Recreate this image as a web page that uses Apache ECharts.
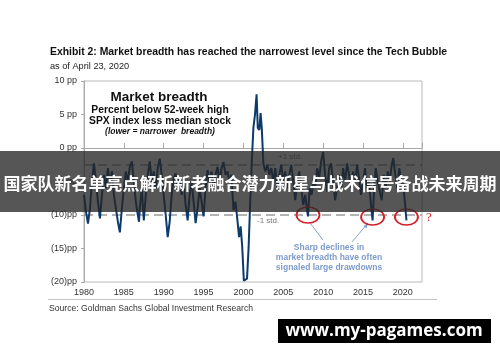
<!DOCTYPE html>
<html>
<head>
<meta charset="utf-8">
<script src="https://cdn.jsdelivr.net/npm/echarts@6/dist/echarts.min.js"></script>
<style>
html,body{margin:0;padding:0;background:#fff;}
#chart{width:500px;height:362px;}
</style>
</head>
<body>
<div id="chart"></div>
<script>
// ---- data ----
var titleText = 'Exhibit 2: Market breadth has reached the narrowest level since the Tech Bubble';
var subtitleText = 'as of April 23, 2020';
var sourceText = 'Source: Goldman Sachs Global Investment Research';
var bannerText = '国家队新名单亮点解析新老融合潜力新星与战术信号备战未来周期';
var watermarkText = 'www.my-pagames.com';
var yTicks = [-20, -15, -10, -5, 0, 5, 10];
var xTicks = [1980, 1985, 1990, 1995, 2000, 2005, 2010, 2015, 2020];
var stdLevels = { plus: -2.5, minus: -10 };
var circledDips = [[2008.1, -10], [2016.2, -10.3], [2020.45, -10.3]];
// market breadth: [year, pp]
var breadth = [
[1980.00,-7],[1980.25,-9.5],[1980.50,-11.3],[1980.75,-9],[1981.00,-5],[1981.25,-2.3],[1981.50,-5],[1981.75,-8],
[1982.00,-10.5],[1982.25,-7],[1982.50,-4],[1982.75,-6],[1983.00,-3],[1983.25,-5.5],[1983.50,-3.5],[1983.75,-7],
[1984.00,-9],[1984.25,-11],[1984.50,-12.6],[1984.75,-9],[1985.00,-6],[1985.25,-3.5],[1985.50,-5],[1985.75,-2.8],
[1986.00,-2],[1986.25,-5],[1986.50,-8],[1986.75,-10],[1986.90,-11],[1987.00,-9],[1987.25,-6],[1987.50,-10.8],
[1987.75,-7],[1988.00,-4],[1988.25,-2],[1988.50,-5],[1988.75,-3.5],[1989.00,-6],[1989.25,-3],[1989.50,-1.6],
[1989.75,-4],[1990.00,-7],[1990.25,-10],[1990.50,-13.3],[1990.75,-11],[1991.00,-7],[1991.25,-4.5],[1991.50,-3.8],
[1991.75,-6],[1992.00,-4.5],[1992.25,-7],[1992.50,-5],[1992.75,-8.5],[1993.00,-10.8],[1993.25,-7],[1993.50,-5],
[1993.75,-8],[1994.00,-11.2],[1994.25,-9],[1994.50,-6],[1994.75,-8],[1995.00,-10.2],[1995.25,-6],[1995.50,-3.3],
[1995.75,-5],[1996.00,-3.5],[1996.25,-6],[1996.50,-4],[1996.75,-2.8],[1997.00,-5],[1997.25,-3],[1997.50,-2.1],
[1997.75,-4],[1998.00,-3.5],[1998.25,-5],[1998.50,-4],[1998.75,-9.3],[1999.00,-8],[1999.25,-10.8],[1999.45,-13.3],
[1999.65,-11.7],[1999.85,-14.8],[2000.05,-19.8],[2000.25,-20],[2000.45,-19.5],[2000.65,-14.8],[2000.85,-8],[2001.05,-2],
[2001.25,3],[2001.45,5],[2001.65,8],[2001.80,3],[2002.00,2.7],[2002.15,5.2],[2002.30,3],[2002.50,-2.3],
[2002.75,-3.5],[2003.00,-2.5],[2003.25,-4],[2003.50,-3],[2003.75,-5],[2004.00,-3],[2004.25,-6],[2004.50,-4],
[2004.75,-2.5],[2005.00,-5],[2005.25,-3.5],[2005.50,-6],[2005.75,-4],[2006.00,-2.5],[2006.25,-5],[2006.50,-7.8],
[2006.75,-5],[2007.00,-3.5],[2007.25,-6],[2007.50,-8.5],[2007.75,-7],[2007.95,-9],[2008.10,-10.2],[2008.30,-6],
[2008.55,-7],[2008.80,-4.5],[2009.00,-6],[2009.25,-3],[2009.50,-4.5],[2009.75,-2],[2010.00,-0.6],[2010.25,-4],
[2010.50,-6.5],[2010.75,-3],[2011.00,-2.3],[2011.25,-5],[2011.50,-7.8],[2011.75,-6],[2012.00,-4],[2012.25,-6.5],
[2012.50,-3],[2012.75,-5],[2013.00,-2.3],[2013.25,-4],[2013.50,-6],[2013.75,-3.5],[2014.00,-5],[2014.25,-2.5],
[2014.50,-4.5],[2014.75,-7],[2015.00,-5],[2015.25,-3],[2015.50,-6],[2015.75,-5],[2016.00,-8.5],[2016.20,-10.8],
[2016.40,-6],[2016.60,-3],[2016.85,-5],[2017.10,-6.5],[2017.35,-7.8],[2017.60,-4],[2017.85,-6],[2018.10,-3.5],
[2018.35,-5],[2018.60,-2.5],[2018.80,-1.5],[2019.05,-4],[2019.30,-6],[2019.55,-3],[2019.80,-5],[2020.05,-5.5],
[2020.25,-8],[2020.45,-10.8]
];

var FONT = '"Liberation Sans", Arial, sans-serif';
var chart = echarts.init(document.getElementById('chart'), null, {renderer: 'canvas'});

function yFmt(v) {
  if (v > 0) return v + ' pp';
  if (v === 0) return '0 pp';
  return '(' + (-v) + ')pp';
}

var option = {
  animation: false,
  backgroundColor: '#ffffff',
  grid: { left: 84, right: 78, top: 81, bottom: 80, show: true, borderColor: '#b8b8b8', borderWidth: 1, backgroundColor: 'transparent' },
  xAxis: [
    {
      type: 'value', min: 1980, max: 2022.4, interval: 5, position: 'bottom',
      axisLine: { show: true, onZero: true, lineStyle: { color: '#a8a8a8', width: 1 } },
      axisTick: { show: true, inside: true, length: 5, lineStyle: { color: '#a8a8a8' } },
      axisLabel: { show: false }, splitLine: { show: false }
    },
    {
      type: 'value', min: 1980, max: 2022.4, interval: 5, position: 'bottom',
      axisLine: { show: false, onZero: false }, axisTick: { show: false }, splitLine: { show: false },
      axisLabel: {
        show: true, color: '#333', fontSize: 9, fontFamily: FONT, margin: 6, showMaxLabel: false,
        formatter: function (v) { return xTicks.indexOf(v) >= 0 ? String(v) : ''; }
      }
    }
  ],
  yAxis: {
    type: 'value', min: yTicks[0], max: yTicks[yTicks.length - 1], interval: 5,
    axisLine: { show: true, lineStyle: { color: '#a8a8a8' } },
    axisTick: { show: true, length: 3, lineStyle: { color: '#a8a8a8' } },
    splitLine: { show: false },
    axisLabel: { color: '#333', fontSize: 9, fontFamily: FONT, margin: 7, formatter: yFmt }
  },
  series: [
    {
      type: 'line', xAxisIndex: 0, data: breadth, showSymbol: false, symbol: 'none',
      lineStyle: { color: '#0c3a6b', width: 2 }, z: 3,
      markLine: {
        silent: true, symbol: 'none', label: { show: false },
        lineStyle: { color: '#9a9a9a', type: [9, 5], width: 1.5 },
        data: [{ yAxis: stdLevels.plus }, { yAxis: stdLevels.minus }], z: 2
      },
      markPoint: {
        silent: true, symbol: 'circle', symbolSize: [23, 16], label: { show: false },
        itemStyle: { color: 'rgba(0,0,0,0)', borderColor: '#d4202a', borderWidth: 1.6 },
        data: circledDips.map(function (d) { return { coord: d }; })
      }
    }
  ],
  graphic: [
    { type: 'text', left: 50, top: 47, style: { text: titleText, font: 'bold 10.4px ' + FONT, fill: '#111' } },
    { type: 'text', left: 50, top: 62, style: { text: subtitleText, font: '9.2px ' + FONT, fill: '#222' } },
    { type: 'text', x: 159, y: 97, style: { text: 'Market breadth', font: 'bold 13.5px ' + FONT, fill: '#111', textAlign: 'center', textVerticalAlign: 'middle' } },
    { type: 'text', x: 160, y: 110, style: { text: 'Percent below 52-week high', font: 'bold 10.3px ' + FONT, fill: '#111', textAlign: 'center', textVerticalAlign: 'middle' } },
    { type: 'text', x: 160, y: 121, style: { text: 'SPX index less median stock', font: 'bold 10.3px ' + FONT, fill: '#111', textAlign: 'center', textVerticalAlign: 'middle' } },
    { type: 'text', x: 160, y: 132, style: { text: '(lower = narrower  breadth)', font: 'italic bold 8.5px ' + FONT, fill: '#111', textAlign: 'center', textVerticalAlign: 'middle' } },
    { type: 'text', x: 278, y: 157, style: { text: '+1 std.', font: '8px ' + FONT, fill: '#777', textVerticalAlign: 'middle' } },
    { type: 'text', x: 257, y: 221, style: { text: '-1 std.', font: '8px ' + FONT, fill: '#777', textVerticalAlign: 'middle' } },
    { type: 'text', x: 429, y: 218, style: { text: '?', font: '13px "Liberation Serif", serif', fill: '#d4202a', textAlign: 'center', textVerticalAlign: 'middle' } },
    { type: 'line', shape: { x1: 323, y1: 240, x2: 310, y2: 223 }, style: { stroke: '#8aa4cf', lineWidth: 1 } },
    { type: 'line', shape: { x1: 352, y1: 242, x2: 368, y2: 223 }, style: { stroke: '#8aa4cf', lineWidth: 1 } },
    { type: 'polygon', shape: { points: [[368, 223], [363.5, 226], [366.5, 228.5]] }, style: { fill: '#8aa4cf' } },
    { type: 'text', x: 329, y: 248, style: { text: 'Sharp declines in', font: 'bold 8.5px ' + FONT, fill: '#7d9bcb', textAlign: 'center', textVerticalAlign: 'middle' } },
    { type: 'text', x: 329, y: 258, style: { text: 'market breadth have often', font: 'bold 8.5px ' + FONT, fill: '#7d9bcb', textAlign: 'center', textVerticalAlign: 'middle' } },
    { type: 'text', x: 329, y: 268, style: { text: 'signaled large drawdowns', font: 'bold 8.5px ' + FONT, fill: '#7d9bcb', textAlign: 'center', textVerticalAlign: 'middle' } },
    { type: 'line', shape: { x1: 48, y1: 299.5, x2: 437, y2: 299.5 }, style: { stroke: '#c4c4c4', lineWidth: 1 } },
    { type: 'text', left: 49, top: 304, style: { text: sourceText, font: '8.6px ' + FONT, fill: '#333' } },
    { type: 'rect', shape: { x: 0, y: 151, width: 500, height: 61 }, style: { fill: 'rgba(38,38,38,0.78)' }, z: 100 },
    { type: 'text', x: 250, y: 184, z: 101, style: { text: bannerText, font: 'bold 17px "Noto Sans CJK SC", sans-serif', fill: '#fff', textAlign: 'center', textVerticalAlign: 'middle' } },
    { type: 'rect', shape: { x: 278, y: 319, width: 213, height: 24 }, style: { fill: '#000' }, z: 100 },
    { type: 'text', x: 384, y: 331, z: 101, style: { text: watermarkText, font: 'bold 17px "Open Sans", sans-serif', fill: '#fff', textAlign: 'center', textVerticalAlign: 'middle' } }
  ]
};
chart.setOption(option);
</script>
</body>
</html>
